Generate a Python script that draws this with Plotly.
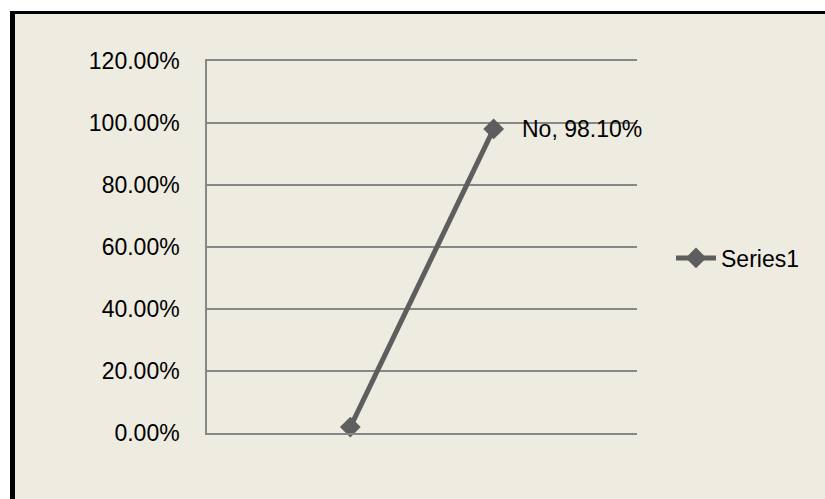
import plotly.graph_objects as go

categories = ["Yes", "No"]
values = [0.019, 0.981]
series_name = "Series1"
y_ticks = [0, 0.2, 0.4, 0.6, 0.8, 1.0, 1.2]

W, H = 825, 499
L, R, T, B = 207, 188, 61, 66
pw, ph = W - L - R, H - T - B

def px_x(p):
    return (p - L) / pw

def px_y(p):
    return (H - B - p) / ph

BEIGE = "#EEEBE0"
LINE = "#5E5E5E"
GRID = "#878787"
FONT = dict(family="Liberation Sans, Arial, sans-serif", size=23, color="#000000")

fig = go.Figure()
fig.add_trace(go.Scatter(
    x=categories, y=values, name=series_name, mode="lines+markers",
    line=dict(color=LINE, width=5),
    marker=dict(symbol="diamond", size=16, color=LINE),
    cliponaxis=False,
))

# data label for the last point only
annotations = [
    dict(x=categories[-1], y=values[-1], xref="x", yref="y",
         text=f"{categories[-1]}, {values[-1]:.2%}", showarrow=False,
         xanchor="left", yanchor="middle", xshift=26, font=FONT)
]

shapes = [
    dict(type="rect", xref="paper", yref="paper", x0=px_x(15), x1=px_x(W + 5),
         y0=px_y(H + 5), y1=px_y(14), fillcolor=BEIGE, line=dict(width=0), layer="below"),
    dict(type="rect", xref="paper", yref="paper", x0=px_x(10), x1=px_x(W + 5),
         y0=px_y(14), y1=px_y(11), fillcolor="#000000", line=dict(width=0), layer="below"),
    dict(type="rect", xref="paper", yref="paper", x0=px_x(10), x1=px_x(15),
         y0=px_y(H + 5), y1=px_y(11), fillcolor="#000000", line=dict(width=0), layer="below"),
]

fig.update_layout(
    width=W, height=H,
    margin=dict(l=L, r=R, t=T, b=B, pad=0),
    paper_bgcolor="#FFFFFF",
    plot_bgcolor="rgba(0,0,0,0)",
    font=FONT,
    shapes=shapes,
    annotations=annotations,
    showlegend=True,
    legend=dict(x=px_x(671), y=px_y(258), xanchor="left", yanchor="middle",
                bgcolor="rgba(0,0,0,0)", font=FONT, itemwidth=40),
    xaxis=dict(range=[-1, 2], showticklabels=False, showgrid=False, zeroline=False,
               showline=True, mirror=True, linecolor=GRID, linewidth=1.5, ticks=""),
    yaxis=dict(range=[0, 1.2], tickvals=y_ticks, tickformat=".2%", showgrid=True,
               gridcolor=GRID, gridwidth=1.5, zeroline=False, showline=True,
               linecolor=GRID, linewidth=1.5, ticks="", ticklabelstandoff=21),
)

fig.write_html("out.html")
